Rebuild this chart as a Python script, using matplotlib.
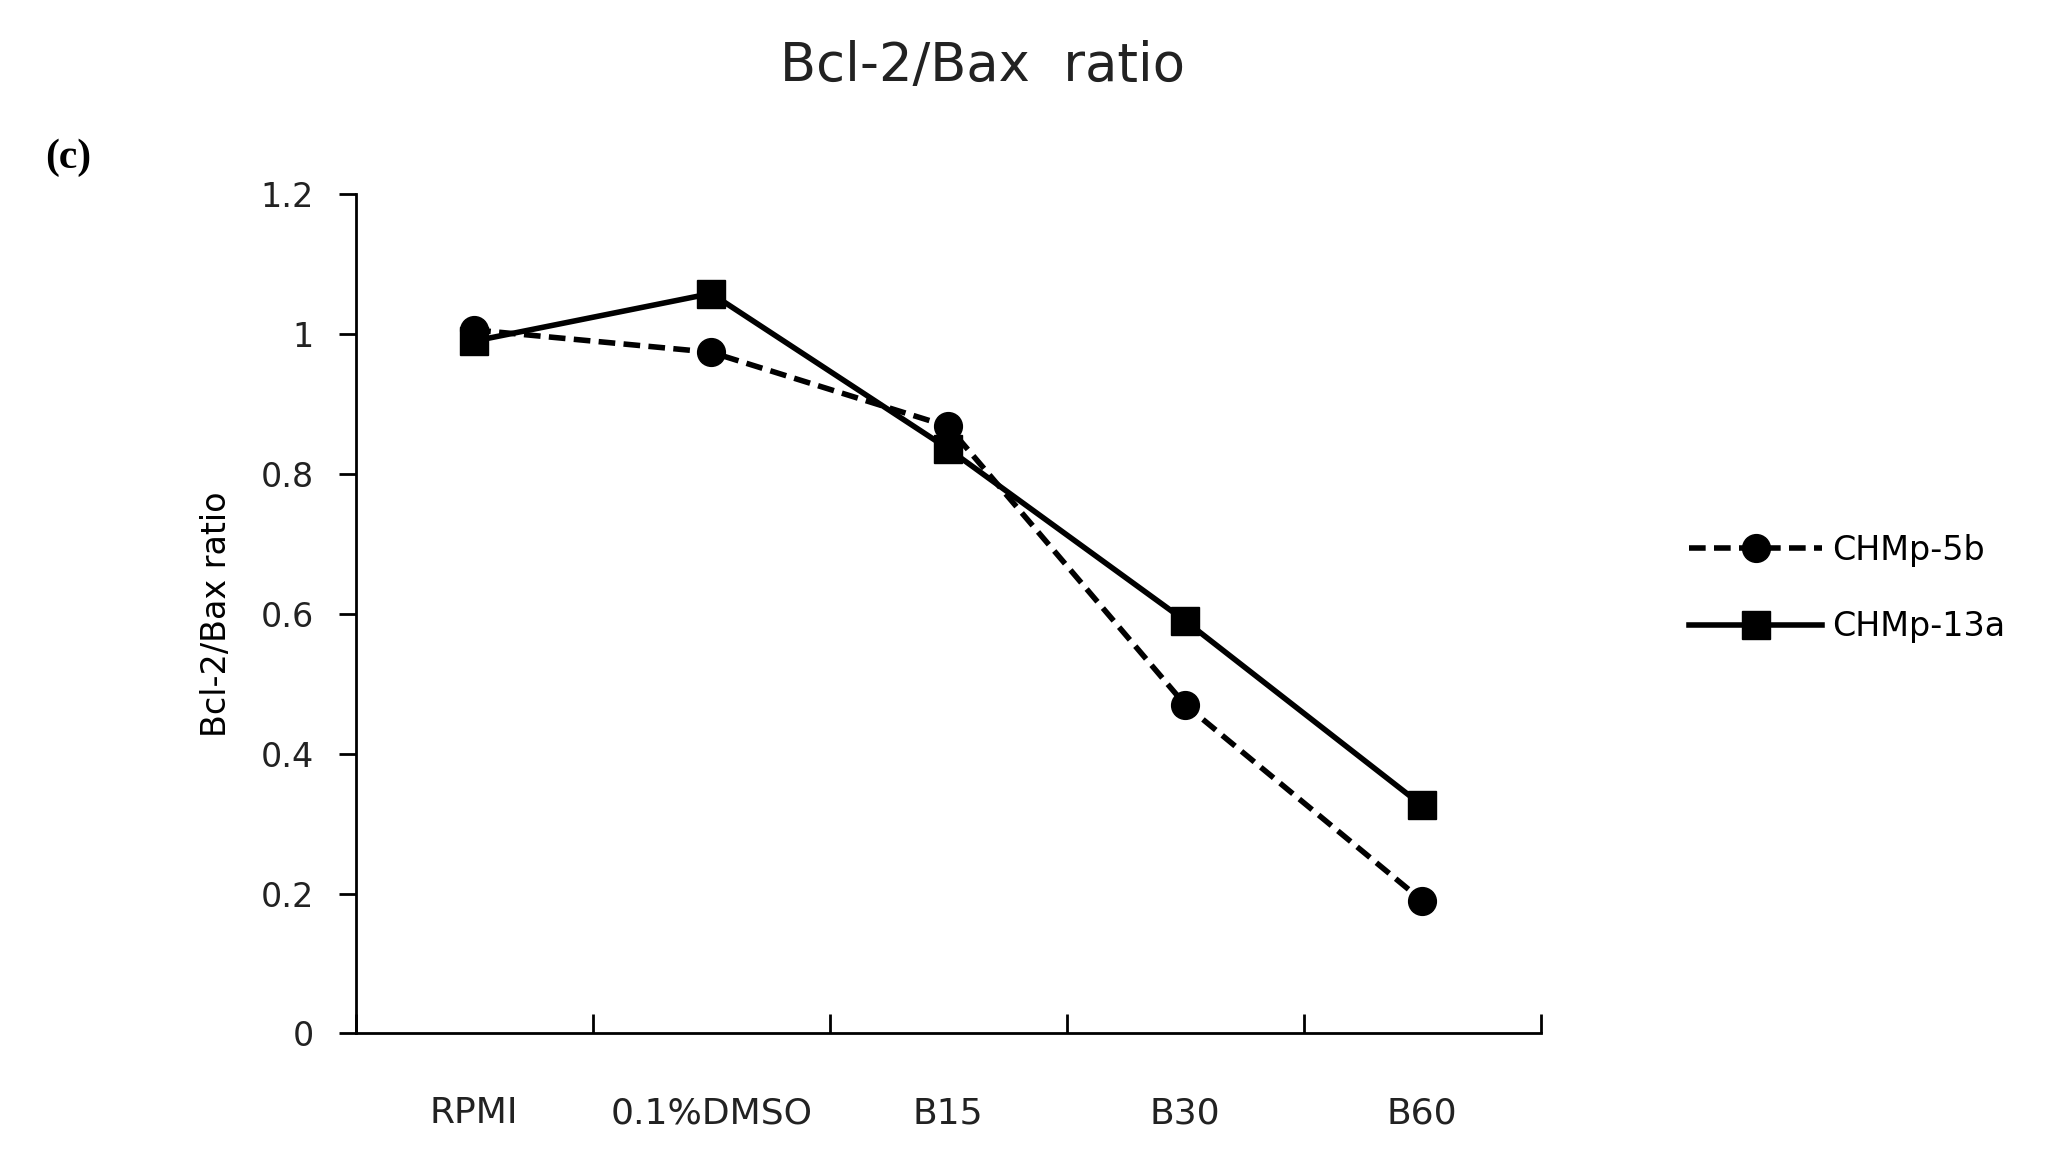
import matplotlib
matplotlib.use("Agg")
import matplotlib.pyplot as plt
import numpy as np

categories = ["RPMI", "0.1%DMSO", "B15", "B30", "B60"]
chmp5b = [1.006, 0.974, 0.868, 0.47, 0.19]
chmp13a = [0.99, 1.058, 0.836, 0.59, 0.326]
yticks = [0, 0.2, 0.4, 0.6, 0.8, 1, 1.2]
yticklabels = ["0", "0.2", "0.4", "0.6", "0.8", "1", "1.2"]

fig = plt.figure(figsize=(20.68, 11.56), dpi=100)
ax = fig.add_axes([0.172, 0.106, 0.573, 0.726])
x = np.arange(len(categories))
ax.plot(x, chmp5b, ls=(0, (3, 1.5)), color="black", lw=4, marker="o", ms=20, label="CHMp-5b")
ax.plot(x, chmp13a, ls="-", color="black", lw=4, marker="s", ms=20, label="CHMp-13a")
ax.set_xlim(-0.5, 4.5)
ax.set_ylim(0, 1.2)
ax.set_yticks(yticks)
ax.set_yticklabels(yticklabels, fontsize=24, color="#222222")
ax.set_xticks(np.arange(-0.5, 5, 1))
ax.set_xticklabels([])
ax.tick_params(axis="x", direction="in", length=14, width=2)
ax.tick_params(axis="y", direction="out", length=12, width=2, pad=18)
for i, c in enumerate(categories):
    ax.text(i, -0.09, c, ha="center", va="top", fontsize=26, color="#222222")
for s in ["top", "right"]:
    ax.spines[s].set_visible(False)
for s in ["left", "bottom"]:
    ax.spines[s].set_linewidth(2)
ax.set_ylabel("Bcl-2/Bax ratio", fontsize=24, labelpad=20)
fig.text(0.475, 0.93, "Bcl-2/Bax  ratio", ha="center", fontsize=38, color="#222222")
fig.text(0.022, 0.855, "(c)", fontsize=30, fontweight="bold", family="Liberation Serif")
ax.legend(loc="center left", bbox_to_anchor=(1.1, 0.53), frameon=False, fontsize=24,
          handlelength=4, labelspacing=1.3, handletextpad=0.3)
fig.savefig("out.png", dpi=100)
